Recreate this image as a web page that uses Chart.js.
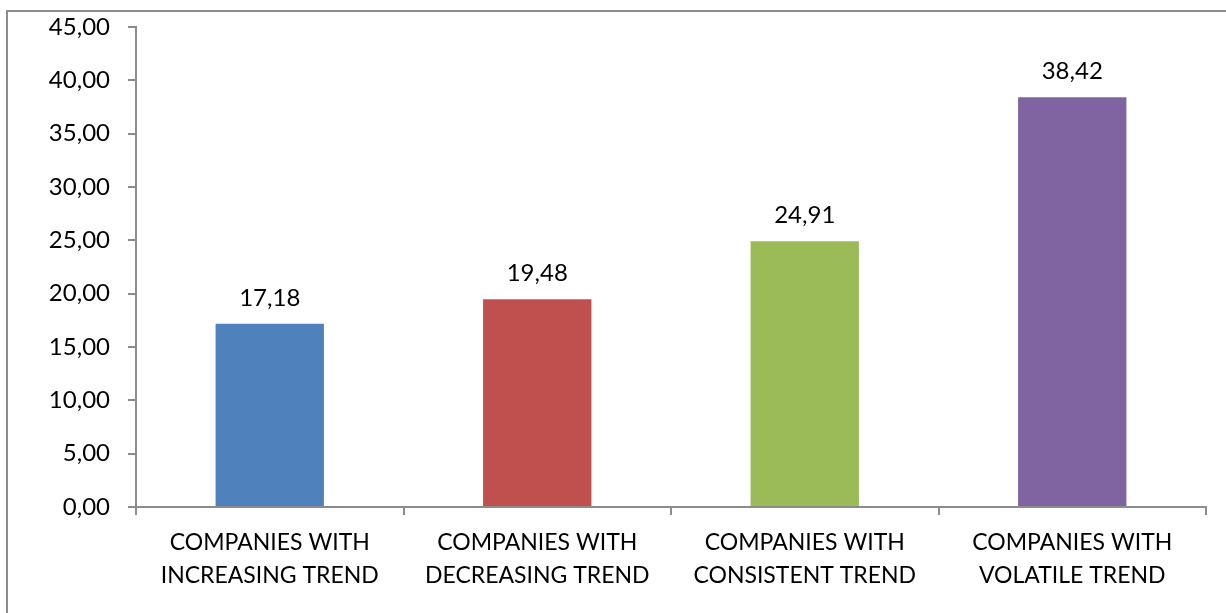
<!DOCTYPE html>
<html>
<head>
<meta charset="utf-8">
<script src="https://cdn.jsdelivr.net/npm/chart.js@4/dist/chart.umd.min.js"></script>
<style>
  html, body { margin: 0; padding: 0; background: #fff; }
  #wrap { position: relative; width: 1226px; height: 613px; overflow: hidden; }
  #frame { position: absolute; left: 6px; top: 10px; width: 1240px; height: 640px;
           border-top: 2px solid #8c8c8c; border-left: 2px solid #8c8c8c; box-sizing: border-box; }
  #trendChart { position: absolute; left: 0; top: 0; }
</style>
</head>
<body>
<div id="wrap">
  <div id="frame"></div>
  <canvas id="trendChart" width="1226" height="613"></canvas>
</div>
<script>
// categories and values
var categories = [
  ["COMPANIES WITH", "INCREASING TREND"],
  ["COMPANIES WITH", "DECREASING TREND"],
  ["COMPANIES WITH", "CONSISTENT TREND"],
  ["COMPANIES WITH", "VOLATILE TREND"]
];
var values = [17.18, 19.48, 24.91, 38.42];
var barColors = ["#4F81BD", "#C0504D", "#9BBB59", "#8064A2"];
var yTicks = [0, 5, 10, 15, 20, 25, 30, 35, 40, 45];

var FONT = "Lato, 'Open Sans', sans-serif";
var AXIS = "#8c8c8c";

function fmt(v){
  return v.toFixed(2).replace(".", ",");
}

// numbers above the bars
var valueLabels = {
  id: "valueLabels",
  afterDatasetsDraw: function(chart){
    var ctx = chart.ctx;
    var meta = chart.getDatasetMeta(0);
    ctx.save();
    ctx.font = "24px " + FONT;
    ctx.fillStyle = "#000";
    ctx.textAlign = "center";
    ctx.textBaseline = "alphabetic";
    meta.data.forEach(function(bar, i){
      ctx.fillText(fmt(values[i]), bar.x, bar.y - 18);
    });
    ctx.restore();
  }
};

var ctx = document.getElementById("trendChart").getContext("2d");
var chart = new Chart(ctx, {
  type: "bar",
  data: {
    labels: categories,
    datasets: [{
      data: values,
      backgroundColor: barColors,
      borderWidth: 0,
      categoryPercentage: 0.405,
      barPercentage: 1
    }]
  },
  options: {
    responsive: false,
    animation: false,
    layout: { padding: { top: 27, right: 20, left: 0, bottom: 0 } },
    plugins: {
      legend: { display: false },
      tooltip: { enabled: false }
    },
    scales: {
      x: {
        afterFit: function(s){ s.height = 106; s.paddingLeft = 0; s.paddingRight = 0; },
        grid: { offset: true, drawOnChartArea: false, drawTicks: true, tickLength: 8, color: AXIS, lineWidth: 2 },
        border: { color: AXIS, width: 2 },
        ticks: {
          color: "#000",
          maxRotation: 0,
          autoSkip: false,
          padding: 11,
          font: { family: FONT, size: 23, lineHeight: 1.43 }
        }
      },
      y: {
        min: 0,
        max: 45,
        afterFit: function(s){ s.width = 136; s.paddingTop = 0; s.paddingBottom = 0; },
        afterBuildTicks: function(s){
          s.ticks = yTicks.map(function(v){ return { value: v }; });
        },
        grid: { drawOnChartArea: false, drawTicks: true, tickLength: 8, color: AXIS, lineWidth: 2 },
        border: { color: AXIS, width: 2 },
        ticks: {
          color: "#000",
          padding: 18,
          font: { family: FONT, size: 24 },
          callback: function(v){ return fmt(v); }
        }
      }
    }
  },
  plugins: [valueLabels]
});
</script>
</body>
</html>
